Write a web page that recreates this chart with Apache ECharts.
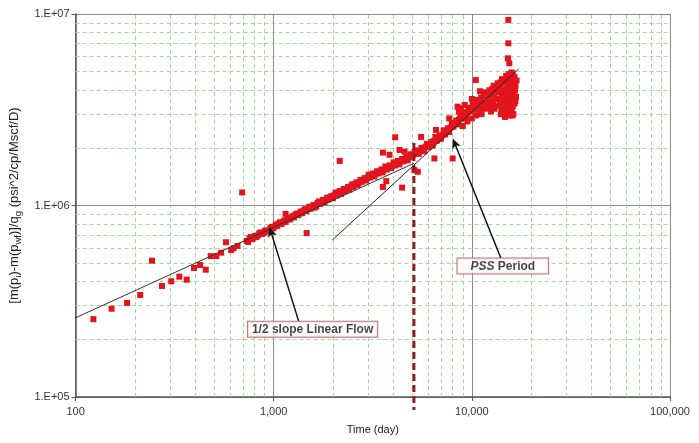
<!DOCTYPE html>
<html>
<head>
<meta charset="utf-8">
<script src="https://cdn.jsdelivr.net/npm/echarts@6/dist/echarts.min.js"></script>
<style>html,body{margin:0;padding:0;background:#fff}#c{width:699px;height:443px}</style>
</head>
<body>
<div id="c"></div>
<script>
// ---- data ----
const xTicks = [100, 1000, 10000, 100000];
const xTickLabels = ['100', '1,000', '10,000', '100,000'];
const yTicks = [1e5, 1e6, 1e7];
const yTickLabels = ['1.E+05', '1.E+06', '1.E+07'];
const xMinor = [200,300,400,500,600,700,800,900,2000,3000,4000,5000,6000,7000,8000,9000,20000,30000,40000,50000,60000,70000,80000,90000];
const yMinor = [2e5,3e5,4e5,5e5,6e5,7e5,8e5,9e5,2e6,3e6,4e6,5e6,6e6,7e6,8e6,9e6];

// early, sparse points [time (day), value]
const earlyPoints = [
  [123,2.55e5],[152,2.89e5],[182,3.10e5],[212,3.41e5],[243,5.15e5],[273,3.80e5],[304,4.02e5],
  [334,4.25e5],[364,4.10e5],[396,4.72e5],[425,4.89e5],[454,4.62e5],[481,5.44e5],[513,5.44e5],
  [543,5.67e5],[574,6.43e5],[610,5.86e5],[627,5.98e5],[657,6.15e5],[693,1.17e6]
];
// dense trend of points
const bandPoints = [
  [731,6.53e5],[755,6.73e5],[780,6.68e5],[805,6.93e5],[832,6.98e5],[859,7.23e5],[887,7.16e5],
  [916,7.41e5],[946,7.40e5],[977,7.73e5],[1009,7.76e5],[1042,7.82e5],[1076,8.17e5],[1112,8.18e5],
  [1148,8.22e5],[1186,8.59e5],[1225,8.63e5],[1265,8.67e5],[1306,9.08e5],[1349,9.08e5],[1393,9.12e5],
  [1439,9.57e5],[1486,9.59e5],[1535,9.62e5],[1585,1.005e6],[1637,9.89e5],[1690,1.05e6],[1746,1.04e6],
  [1803,1.04e6],[1862,1.10e6],[1923,1.10e6],[1986,1.09e6],[2051,1.17e6],[2118,1.16e6],[2188,1.15e6],
  [2259,1.22e6],[2333,1.22e6],[2410,1.21e6],[2489,1.29e6],[2570,1.29e6],[2655,1.28e6],[2742,1.36e6],
  [2831,1.36e6],[2924,1.35e6],[3020,1.45e6],[3119,1.43e6],[3221,1.42e6],[3327,1.51e6],[3436,1.50e6],
  [3548,1.49e6],[3664,1.60e6],[3784,1.58e6],[3908,1.57e6],[4036,1.68e6],[4169,1.66e6],[4305,1.64e6],
  [4446,1.75e6],[4592,1.74e6],[4742,1.72e6],[4898,1.85e6],[5058,1.84e6],[5224,1.94e6],[5395,1.86e6],
  [5572,2.00e6],[5754,1.92e6],[5943,2.10e6],[6138,2.07e6],[6339,2.06e6],[6546,2.28e6],[6761,2.25e6],
  [6982,2.23e6],[7211,2.47e6],[7447,2.45e6],[7691,2.42e6],[7943,2.70e6],[8204,2.69e6],[8472,2.65e6],
  [8750,2.97e6],[9036,2.94e6],[9333,2.89e6],[9638,3.24e6],[9954,3.21e6],[10280,3.16e6],[10620,3.56e6],
  [10960,3.52e6],[11320,3.44e6],[11700,3.90e6],[12080,3.85e6],[12470,3.75e6],[12880,4.22e6],
  [13300,4.19e6],[13740,4.06e6],[14190,4.57e6],[14660,4.53e6],[15140,4.66e6],[15630,4.78e6],[16030,4.90e6]
];
const bandPoints2 = [
  [743,6.45e5],[767,6.85e5],[792,6.80e5],[818,6.85e5],[845,7.15e5],[873,7.10e5],[901,7.35e5],
  [931,7.30e5],[961,7.60e5],[993,7.60e5],[1025,7.95e5],[1059,8.05e5],[1093,8.00e5],[1130,8.35e5],
  [1166,8.45e5],[1205,8.45e5],[1245,8.80e5],[1285,8.95e5],[1327,8.90e5],[1371,9.30e5],[1415,9.40e5],
  [1462,9.35e5],[1510,9.85e5],[1560,9.80e5],[1610,9.75e5],[1663,1.03e6],[1717,1.02e6],[1774,1.07e6],
  [1832,1.065e6],[1892,1.075e6],[1954,1.12e6],[2018,1.13e6],[2084,1.13e6],[2152,1.19e6],[2223,1.18e6],
  [2296,1.19e6],[2371,1.25e6],[2449,1.255e6],[2529,1.25e6],[2611,1.32e6],[2697,1.315e6],[2786,1.33e6],
  [2877,1.39e6],[2971,1.40e6],[3068,1.40e6],[3169,1.47e6],[3272,1.465e6],[3380,1.47e6],[3491,1.54e6],
  [3605,1.545e6],[3723,1.54e6],[3844,1.62e6],[3971,1.61e6],[4101,1.62e6],[4235,1.71e6],[4375,1.695e6],
  [4518,1.70e6],[4666,1.79e6],[4820,1.78e6],[4978,1.80e6],[5140,1.90e6],[5310,1.90e6],[5483,1.93e6],
  [5663,1.96e6],[5848,2.03e6],[6040,2.02e6],[6238,2.15e6],[6442,2.17e6],[6653,2.18e6],[6871,2.31e6],
  [7095,2.34e6],[7329,2.35e6],[7568,2.53e6],[7816,2.56e6],[8073,2.58e6],[8337,2.78e6],[8610,2.81e6],
  [8893,2.84e6],[9184,3.05e6],[9485,3.08e6],[9796,3.10e6],[10115,3.35e6],[10450,3.40e6],[10790,3.42e6],
  [11140,3.66e6],[11510,3.72e6],[11890,3.75e6],[12270,4.00e6],[12680,4.05e6],[13090,4.10e6],
  [13520,4.35e6],[13960,4.40e6],[14420,4.45e6],[14900,4.75e6],[15380,4.85e6],[15850,4.95e6]
];
// late cluster and scattered points
const latePoints = [
  [12300,3.3e6],[12600,3.5e6],[13000,3.2e6],[13400,3.6e6],[13800,3.4e6],[14200,3.8e6],[14500,3.1e6],
  [14800,3.5e6],[15100,3.9e6],[15400,3.3e6],[15700,4.1e6],[16000,3.6e6],[16300,4.3e6],[15500,2.95e6],
  [16200,3.0e6],[14000,4.3e6],[15000,4.4e6],[16400,4.7e6],[13600,3.9e6],[12900,3.75e6],[16100,3.3e6],
  [15800,3.8e6],[14400,4.0e6],[16500,4.0e6],[15200,3.7e6],[11800,3.2e6],[11200,3.0e6],[10800,3.3e6],
  [16600,3.5e6],[14700,2.9e6],
  [12100,3.5e6],[12500,3.1e6],[12800,3.4e6],[13200,3.9e6],[13500,3.3e6],[13900,3.6e6],[14100,3.2e6],
  [14300,3.45e6],[14600,3.7e6],[14900,3.25e6],[15300,3.55e6],[15600,3.45e6],[15900,3.15e6],[16200,3.85e6],
  [16400,3.4e6],[16600,4.2e6],[16700,3.7e6],[15000,4.1e6],[15500,4.3e6],[14800,3.95e6],[13700,4.2e6],
  [16300,4.55e6],[15800,4.45e6],[16800,4.5e6],[14000,3.0e6],[15200,3.05e6],[16000,2.95e6],
  [9000,2.6e6],[9500,2.75e6],[10500,2.95e6],[11000,3.1e6],[11500,3.25e6],[10000,2.85e6],[12000,3.4e6],
  [9200,3.35e6],[10000,3.6e6],[11000,3.95e6],[8600,3.1e6],
  [15280,9.31e6],[15280,7.03e6],[15200,5.87e6],[15450,5.53e6]
];
const outlierPoints = [
  [4102,2.27e6],[5546,2.28e6],[3556,1.89e6],[3840,1.84e6],[4315,1.95e6],[4575,1.91e6],[2153,1.71e6],
  [3700,1.34e6],[3556,1.25e6],[4446,1.24e6],[5129,1.53e6],[5333,1.50e6],[10470,4.52e6],[8472,3.28e6],
  [8810,3.22e6],[7690,2.85e6],[6470,1.76e6],[8000,1.76e6],[6590,2.48e6],[7260,2.43e6],[5740,1.95e6],
  [1148,9.04e5],[1466,7.18e5]
];
// fitted straight lines
const halfSlopeLine = [[88,2.44e5],[5100,1.66e6]];
const unitSlopeLine = [[1977,6.61e5],[17220,5.16e6]];
const pssTimeLine = [[5100,2.12e6],[5100,8.55e4]];
// annotations
const linearLabelPos = [1571,2.26e5];
const linearArrow = [[1336,2.49e5],[955,7.64e5]];
const pssLabelPos = [14330,4.83e5];
const pssArrow = [[14000,5.32e5],[8040,2.22e6]];

const allPoints = earlyPoints.concat(bandPoints, bandPoints2, latePoints, outlierPoints);

const font = 'Liberation Sans, Arial, sans-serif';
const chart = echarts.init(document.getElementById('c'));
chart.setOption({
  animation: false,
  backgroundColor: '#fff',
  grid: {left: 73, right: 29, top: 14, bottom: 46},
  xAxis: {
    type: 'log', logBase: 10, min: 100, max: 100000,
    name: 'Time (day)', nameLocation: 'middle', nameGap: 27,
    nameTextStyle: {fontFamily: font, fontSize: 11, color: '#222'},
    axisLine: {lineStyle: {color: '#555', width: 1.5}},
    axisTick: {show: true, length: 4, lineStyle: {color: '#555'}},
    axisLabel: {fontFamily: font, fontSize: 11, color: '#333', margin: 9,
      formatter: v => { const i = xTicks.findIndex(t => Math.abs(t - v) / t < 1e-6); return i >= 0 ? xTickLabels[i] : ''; }},
    splitLine: {show: true, lineStyle: {color: '#8a8a8a', width: 1}}
  },
  yAxis: {
    type: 'log', logBase: 10, min: 1e5, max: 1e7,
    name: '{n|[m(p}{s|i}{n|)-m(p}{s|wf}{n|)]/q}{s|g}{n| (psi^2/cp/Mscf/D)}',
    nameLocation: 'middle', nameGap: 43, nameRotate: 90,
    nameTextStyle: {fontFamily: font, fontSize: 13, color: '#222',
      rich: {n: {fontFamily: font, fontSize: 13, color: '#222', lineHeight: 18, verticalAlign: 'middle'},
             s: {fontFamily: font, fontSize: 9.5, color: '#222', lineHeight: 9, verticalAlign: 'bottom'}}},
    axisLine: {lineStyle: {color: '#555', width: 1.5}},
    axisTick: {show: true, length: 4, lineStyle: {color: '#555'}},
    axisLabel: {fontFamily: font, fontSize: 11, color: '#333', margin: 6,
      formatter: v => { const i = yTicks.findIndex(t => Math.abs(t - v) / t < 1e-6); return i >= 0 ? yTickLabels[i] : ''; }},
    splitLine: {show: true, lineStyle: {color: '#8a8a8a', width: 1}}
  },
  series: [
    {
      name: 'minorGrid', type: 'line', data: [[100, 1e5]], showSymbol: false, symbol: 'none',
      lineStyle: {opacity: 0}, silent: true, z: 1,
      markLine: {
        silent: true, symbol: 'none', label: {show: false}, animation: false, z: 1,
        lineStyle: {color: '#a6d69a', width: 1, type: [4, 3]},
        data: xMinor.map(v => ({xAxis: v})).concat(yMinor.map(v => ({yAxis: v})))
      }
    },
    {
      name: 'data', type: 'scatter', data: allPoints, symbol: 'rect', symbolSize: 6,
      itemStyle: {color: '#e3141c', opacity: 1}, z: 3
    },
    {
      name: 'half', type: 'line', data: halfSlopeLine, symbol: 'none', clip: false,
      lineStyle: {color: '#333', width: 1}, z: 4
    },
    {
      name: 'unit', type: 'line', data: unitSlopeLine, symbol: 'none', clip: false,
      lineStyle: {color: '#222', width: 1}, z: 4
    },
    {
      name: 'pss', type: 'line', data: pssTimeLine, symbol: 'none', clip: false,
      lineStyle: {color: '#8e1b22', width: 3, type: [7, 4]}, z: 5
    },
    {
      name: 'annot', type: 'scatter', symbolSize: 0, z: 6, silent: true,
      data: [
        {value: linearLabelPos, label: {formatter: '1/2 slope Linear Flow'}},
        {value: pssLabelPos, label: {formatter: '{i|PSS} Period', padding: [2, 13, 1, 13]}}
      ],
      label: {show: true, position: 'inside', fontFamily: font, fontSize: 12, fontWeight: 'bold', color: '#151515',
        backgroundColor: '#fff', borderColor: '#a85050', borderWidth: 1, padding: [2, 4, 1, 4],
        rich: {i: {fontFamily: font, fontSize: 12, fontWeight: 'bold', fontStyle: 'italic', color: '#151515'}}},
      markLine: {
        silent: true, symbol: ['none', 'arrow'], symbolSize: [7, 9], label: {show: false}, z: 6,
        lineStyle: {color: '#111', width: 1.5, type: 'solid'},
        data: [
          [{coord: linearArrow[0]}, {coord: linearArrow[1]}],
          [{coord: pssArrow[0]}, {coord: pssArrow[1]}]
        ]
      }
    }
  ]
});
</script>
</body>
</html>
